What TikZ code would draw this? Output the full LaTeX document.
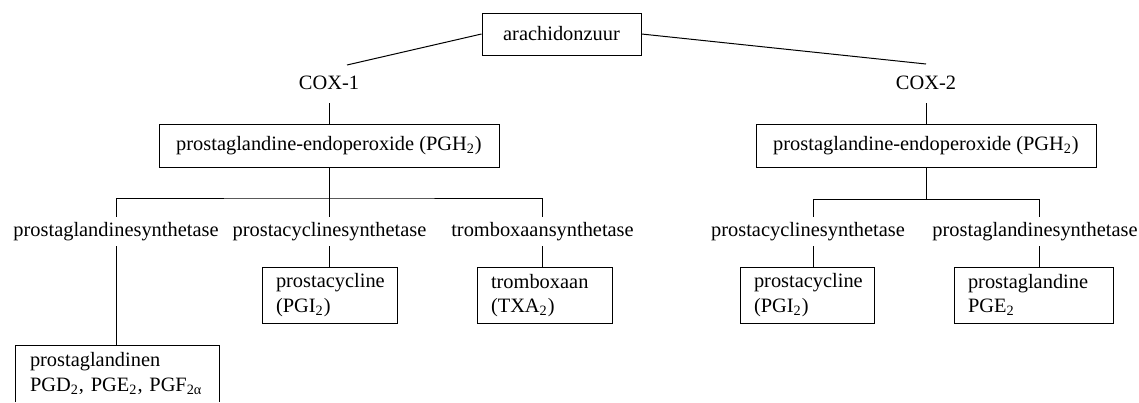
\documentclass[tikz,border=0pt]{standalone}
\usepackage{fontspec}
\setmainfont{Liberation Serif}
\newcommand\diafont{\fontsize{10.2}{12.3}\selectfont}
\begin{document}
\begin{tikzpicture}[x=0.5pt,y=-0.5pt,
  box/.style={draw, line width=0.5pt, inner sep=0pt, font=\diafont},
  topbox/.style={box, minimum width=79.5pt, minimum height=21pt},
  midbox/.style={box, minimum width=170pt, minimum height=21.5pt},
  lbl/.style={inner sep=0pt, text height=7pt, text depth=2pt, font=\diafont},
  coxl/.style={lbl, inner ysep=5pt},
  synl/.style={lbl, inner ysep=2.75pt},
  leaf/.style={box, align=left, inner xsep=7pt, minimum height=28pt},
  conn/.style={line width=0.5pt}]
\useasboundingbox (0,0) rectangle (1139,402);

% top
\node[topbox] (arach) at (561.5,34) {arachidonzuur};
\node[coxl] (cox1) at (329,84) {COX-1};
\node[coxl] (cox2) at (926,84) {COX-2};
\coordinate (c1) at (347,65);
\coordinate (c2) at (926,64);

% PGH2 boxes
\node[midbox] (pgh1) at (329,145.5) {prostaglandine-endoperoxide (PGH\textsubscript{2})};
\node[midbox] (pgh2) at (926,145.5) {prostaglandine-endoperoxide (PGH\textsubscript{2})};

% left synthetases
\node[synl] (pls1) at (116,231.5) {prostaglandinesynthetase};
\node[synl] (pcs1) at (329.5,231.5) {prostacyclinesynthetase};
\node[synl] (txs1) at (542.5,231.5) {tromboxaansynthetase};
\coordinate (j1) at (329,198);

% right synthetases
\node[synl] (pcs2) at (808,231.5) {prostacyclinesynthetase};
\node[synl] (pls2) at (1035,231.5) {prostaglandinesynthetase};
\coordinate (b2l) at (813,199);
\coordinate (b2r) at (1039,199);

% leaf boxes
\node[leaf, text width=53.5pt] (pc1) at (329.5,295) {prostacycline\\(PGI\textsubscript{2})};
\node[leaf, text width=53.5pt] (tx1) at (544.5,295.5) {tromboxaan\\(TXA\textsubscript{2})};
\node[leaf, text width=53pt] (pc2) at (807,295) {prostacycline\\(PGI\textsubscript{2})};
\node[leaf, text width=65.5pt] (pg2) at (1033.5,295) {prostaglandine\\PGE\textsubscript{2}};
\node[leaf, draw=none, anchor=north, text width=87.5pt] (pgn) at (117.5,345)
  {prostaglandinen\\PGD\textsubscript{2}, PGE\textsubscript{2}, PGF\textsubscript{2α}};
\draw[conn] (pgn.south west) |- (pgn.north east) -- (pgn.south east);

% connectors
\draw[conn] (arach.west) -- (c1);
\draw[conn] (arach.east) -- (c2);
\draw[conn] (cox1.south) -- (pgh1.north);
\draw[conn] (cox2.south) -- (pgh2.north);

\draw[conn] (pgh1.south) -- (pgh1.south |- pcs1.north);
\draw[conn] (pls1.north) |- (j1) -| (txs1.north);
\draw[conn] (pls1.south) -- (pls1.south |- pgn.north);
\draw[conn] (pcs1.south -| pgh1.south) -- (pc1.north -| pgh1.south);
\draw[conn] (txs1.south) -- (txs1.south |- tx1.north);

\draw[conn] (pgh2.south) -- (pgh2.south |- b2l);
\draw[conn] (pcs2.north -| b2l) -- (b2l) -- (b2r) -- (pls2.north -| b2r);
\draw[conn] (pcs2.south -| b2l) -- (pc2.north -| b2l);
\draw[conn] (pls2.south -| b2r) -- (pg2.north -| b2r);
\end{tikzpicture}
\end{document}
